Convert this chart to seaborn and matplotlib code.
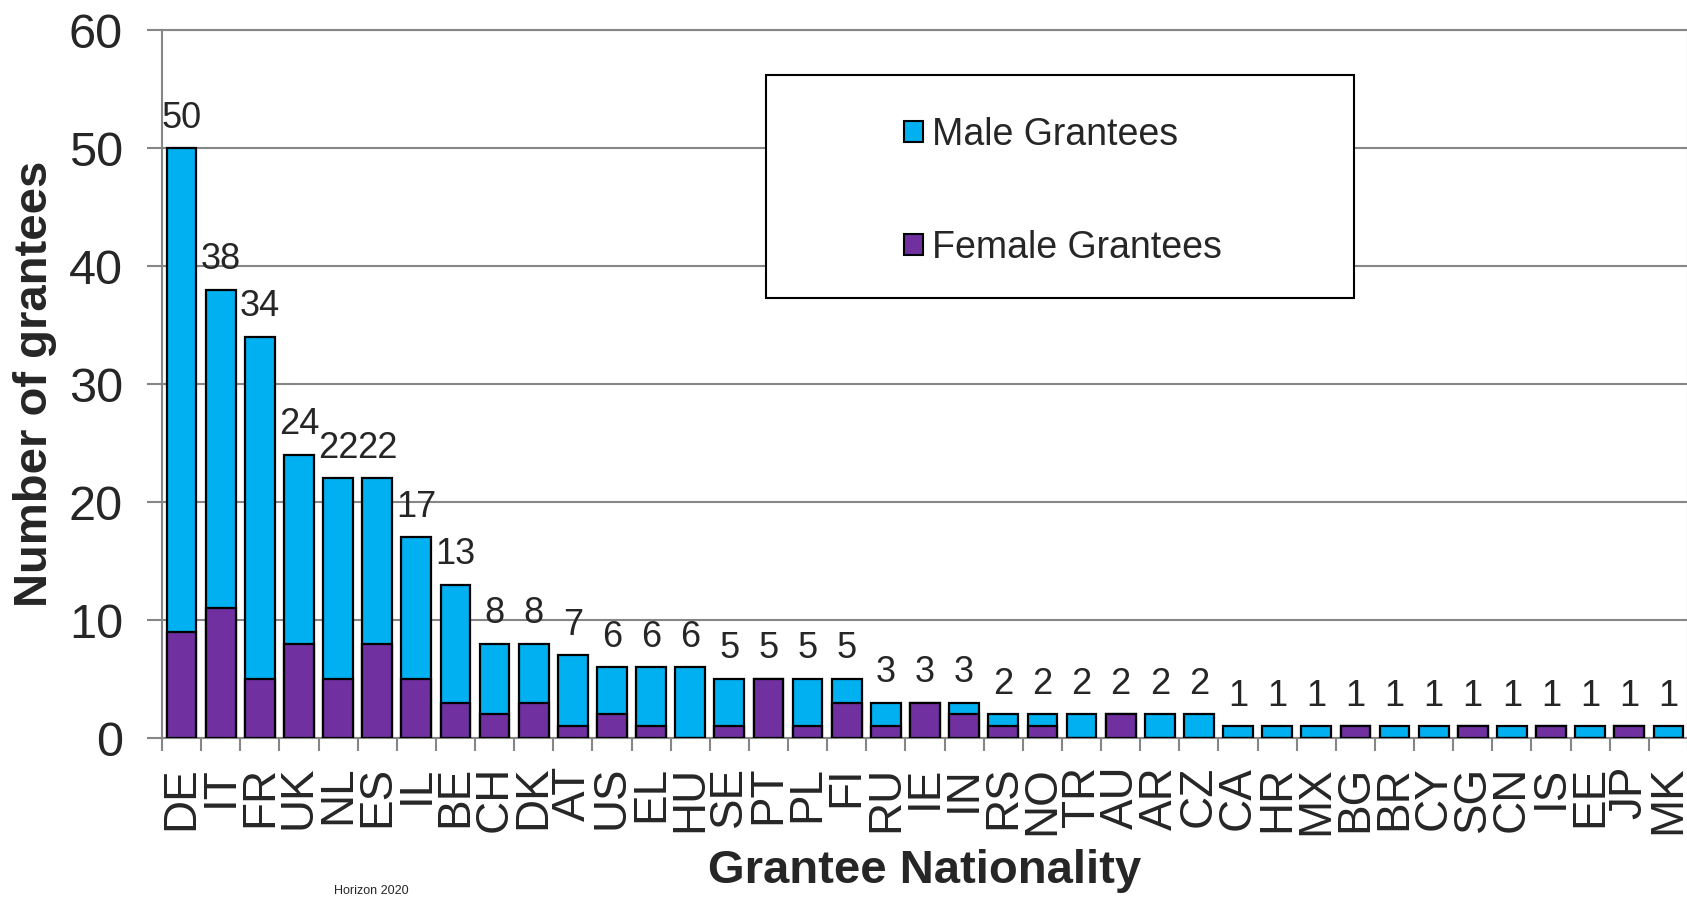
import matplotlib
matplotlib.use("Agg")
import matplotlib.pyplot as plt
import seaborn as sns
import pandas as pd
import numpy as np
from matplotlib.patches import Rectangle, Patch

# ---- data ----
countries = ["DE", "IT", "FR", "UK", "NL", "ES", "IL", "BE", "CH", "DK", "AT", "US", "EL",
             "HU", "SE", "PT", "PL", "FI", "RU", "IE", "IN", "RS", "NO", "TR", "AU", "AR",
             "CZ", "CA", "HR", "MX", "BG", "BR", "CY", "SG", "CN", "IS", "EE", "JP", "MK"]
totals = [50, 38, 34, 24, 22, 22, 17, 13, 8, 8, 7, 6, 6,
          6, 5, 5, 5, 5, 3, 3, 3, 2, 2, 2, 2, 2,
          2, 1, 1, 1, 1, 1, 1, 1, 1, 1, 1, 1, 1]
female = [9, 11, 5, 8, 5, 8, 5, 3, 2, 3, 1, 2, 1,
          0, 1, 5, 1, 3, 1, 3, 2, 1, 1, 0, 2, 0,
          0, 0, 0, 0, 1, 0, 0, 1, 0, 1, 0, 1, 0]
series_names = ["Male Grantees", "Female Grantees"]

BLUE = "#00B0F0"
PURPLE = "#7030A0"
GRID = "#868686"

sns.set_style("white")
plt.rcParams['font.family'] = ['Liberation Sans', 'DejaVu Sans']

W, H = 1687, 899
fig = plt.figure(figsize=(W / 100, H / 100), dpi=100)
ax_l, ax_r, ax_t, ax_b = 162, 1688, 30, 738
ax = fig.add_axes([ax_l / W, (H - ax_b) / H, (ax_r - ax_l) / W, (ax_b - ax_t) / H])

df = pd.DataFrame({"country": countries, "total": totals, "female": female})
sns.barplot(data=df, x="country", y="total", color=BLUE, saturation=1, width=0.76,
            edgecolor="black", linewidth=1.6, errorbar=None, ax=ax, zorder=3)
sns.barplot(data=df, x="country", y="female", color=PURPLE, saturation=1, width=0.76,
            edgecolor="black", linewidth=1.6, errorbar=None, ax=ax, zorder=4)

ax.set_xlim(-0.5, len(countries) - 0.5)
ax.set_ylim(0, 60)
ax.set_yticks(np.arange(0, 61, 10))
ax.yaxis.grid(True, color=GRID, lw=1.5)
ax.xaxis.grid(False)
ax.set_axisbelow(True)
for s in ax.spines.values():
    s.set_color(GRID)
    s.set_linewidth(1.5)

ax.tick_params(axis="y", length=11, width=1.5, color=GRID, pad=17, labelsize=35, left=True)
ax.set_xticks(np.arange(len(countries)))
ax.set_xticklabels(countries, rotation=90, fontsize=33)
ax.tick_params(axis="x", which="major", length=0, pad=20)
ax.set_xticks(np.arange(-0.5, len(countries), 1), minor=True)
ax.tick_params(axis="x", which="minor", length=9.5, width=1.5, color=GRID, bottom=True)

ax.bar_label(ax.containers[0], labels=[str(t) for t in totals], padding=9, fontsize=26)

ax.set_ylabel("Number of grantees", fontsize=34, fontweight="bold")
ax.yaxis.set_label_coords((57 - ax_l) / (ax_r - ax_l), 0.5)
ax.set_xlabel("Grantee Nationality", fontsize=34, fontweight="bold")
ax.xaxis.set_label_coords(0.5, (ax_b - 849) / (ax_b - ax_t))

# legend box
aw, ah = ax_r - ax_l, ax_b - ax_t
bx0, bx1, by0, by1 = 766, 1354, 75, 298
ax.add_patch(Rectangle(((bx0 - ax_l) / aw, (ax_b - by1) / ah), (bx1 - bx0) / aw, (by1 - by0) / ah,
                       transform=ax.transAxes, facecolor="white", edgecolor="black", lw=1.5,
                       zorder=6, clip_on=False))
handles = [Patch(facecolor=BLUE, edgecolor="black", lw=1.5),
           Patch(facecolor=PURPLE, edgecolor="black", lw=1.5)]
leg = ax.legend(handles, series_names, loc="upper left",
                bbox_to_anchor=((904 - ax_l) / aw, (ax_b - 117) / ah),
                frameon=False, fontsize=27, handlelength=0.5, handleheight=0.5,
                handletextpad=0.25, labelspacing=2.05, borderpad=0, borderaxespad=0)
leg.set_zorder(7)

fig.text(334 / W, 2 / H, "Horizon 2020", fontsize=9, va="bottom", ha="left")

fig.savefig("out.png", dpi=100)
